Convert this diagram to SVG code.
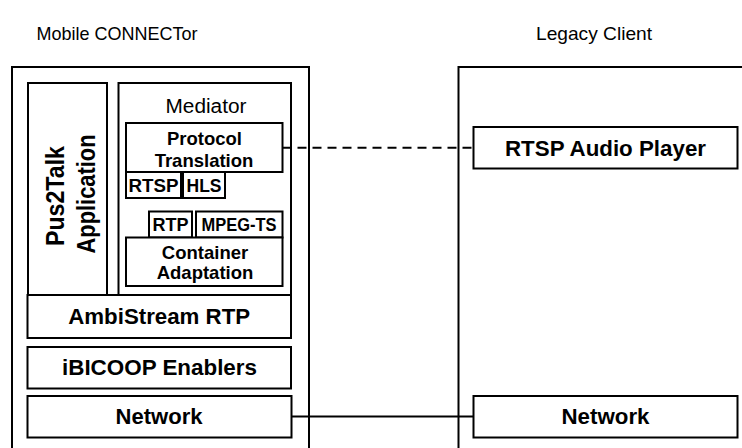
<svg xmlns="http://www.w3.org/2000/svg" width="742" height="448" viewBox="0 0 742 448">
<style>
rect{fill:#fff;stroke:#000;stroke-width:2}
.box{fill:none}
text{font-family:"Liberation Sans",Arial,Helvetica,sans-serif;fill:#000;text-anchor:middle}
.t{font-size:18.5px}
.b{font-weight:bold}
.big{font-size:21.5px}
.mid{font-size:18.5px}
.sm{font-size:17.5px}
.conn{stroke:#000;stroke-width:2;fill:none}
</style>
<rect x="0" y="0" width="742" height="448" style="stroke:none"/>
<text class="t" x="117" y="40" textLength="161" lengthAdjust="spacingAndGlyphs">Mobile CONNECTor</text>
<text class="t" x="594" y="40" textLength="116" lengthAdjust="spacingAndGlyphs">Legacy Client</text>

<g id="mobile-connector"><rect class="box" x="12" y="67" width="297" height="400"/></g>
<g id="legacy-client"><rect class="box" x="458.5" y="67" width="300" height="400"/></g>

<g id="pus2talk">
<rect x="28" y="83" width="79" height="212"/>
<text class="b" style="font-size:22px" transform="translate(63.5,196) scale(1.2,1) rotate(-90)" textLength="100" lengthAdjust="spacingAndGlyphs">Pus2Talk</text>
<text class="b" style="font-size:22px" transform="translate(95,194) scale(1.2,1) rotate(-90)" textLength="119" lengthAdjust="spacingAndGlyphs">Application</text>
</g>

<g id="mediator">
<rect x="118.5" y="83" width="172.5" height="212"/>
<text style="font-size:19.5px" x="206" y="112.5" textLength="81" lengthAdjust="spacingAndGlyphs">Mediator</text>
</g>

<g id="protocol-translation">
<rect x="126" y="123" width="156.5" height="49"/>
<text class="b mid" x="204.5" y="145">Protocol</text>
<text class="b mid" x="204" y="166.5">Translation</text>
</g>
<g id="rtsp">
<rect x="126" y="172" width="55" height="26"/>
<text class="b sm" x="153.5" y="192" textLength="50" lengthAdjust="spacingAndGlyphs">RTSP</text>
</g>
<g id="hls">
<rect x="183" y="172" width="42" height="26"/>
<text class="b sm" x="204" y="192" textLength="35" lengthAdjust="spacingAndGlyphs">HLS</text>
</g>
<g id="rtp">
<rect x="149" y="211.5" width="43" height="26"/>
<text class="b sm" x="170.5" y="231" textLength="36" lengthAdjust="spacingAndGlyphs">RTP</text>
</g>
<g id="mpeg-ts">
<rect x="196" y="211.5" width="86.5" height="26"/>
<text class="b sm" x="239" y="231" textLength="75" lengthAdjust="spacingAndGlyphs">MPEG-TS</text>
</g>
<g id="container-adaptation">
<rect x="126" y="237.5" width="156.5" height="48.5"/>
<text class="b mid" x="205" y="258.5">Container</text>
<text class="b mid" x="205" y="278.5">Adaptation</text>
</g>

<g id="ambistream">
<rect x="27.5" y="295" width="263.5" height="43"/>
<text class="b big" x="159.2" y="324" textLength="182" lengthAdjust="spacingAndGlyphs">AmbiStream RTP</text>
</g>
<g id="ibicoop">
<rect x="27.5" y="347" width="263.5" height="41.5"/>
<text class="b big" x="159.5" y="375" textLength="195" lengthAdjust="spacingAndGlyphs">iBICOOP Enablers</text>
</g>
<g id="network-left">
<rect x="27.5" y="396" width="264" height="41.5"/>
<text class="b big" x="159" y="424" textLength="87" lengthAdjust="spacingAndGlyphs">Network</text>
</g>

<g id="rtsp-audio-player">
<rect x="473.5" y="127" width="264" height="41.5"/>
<text class="b big" x="605.5" y="155.5" textLength="201" lengthAdjust="spacingAndGlyphs">RTSP Audio Player</text>
</g>
<g id="network-right">
<rect x="473.5" y="396" width="264" height="41.5"/>
<text class="b big" x="605.5" y="424" textLength="88" lengthAdjust="spacingAndGlyphs">Network</text>
</g>

<g id="connectors">
<line class="conn" x1="282.5" y1="147.7" x2="473.5" y2="147.7" stroke-dasharray="9 6"/>
<line class="conn" x1="291.5" y1="416.5" x2="473.5" y2="416.5"/>
</g>
</svg>
